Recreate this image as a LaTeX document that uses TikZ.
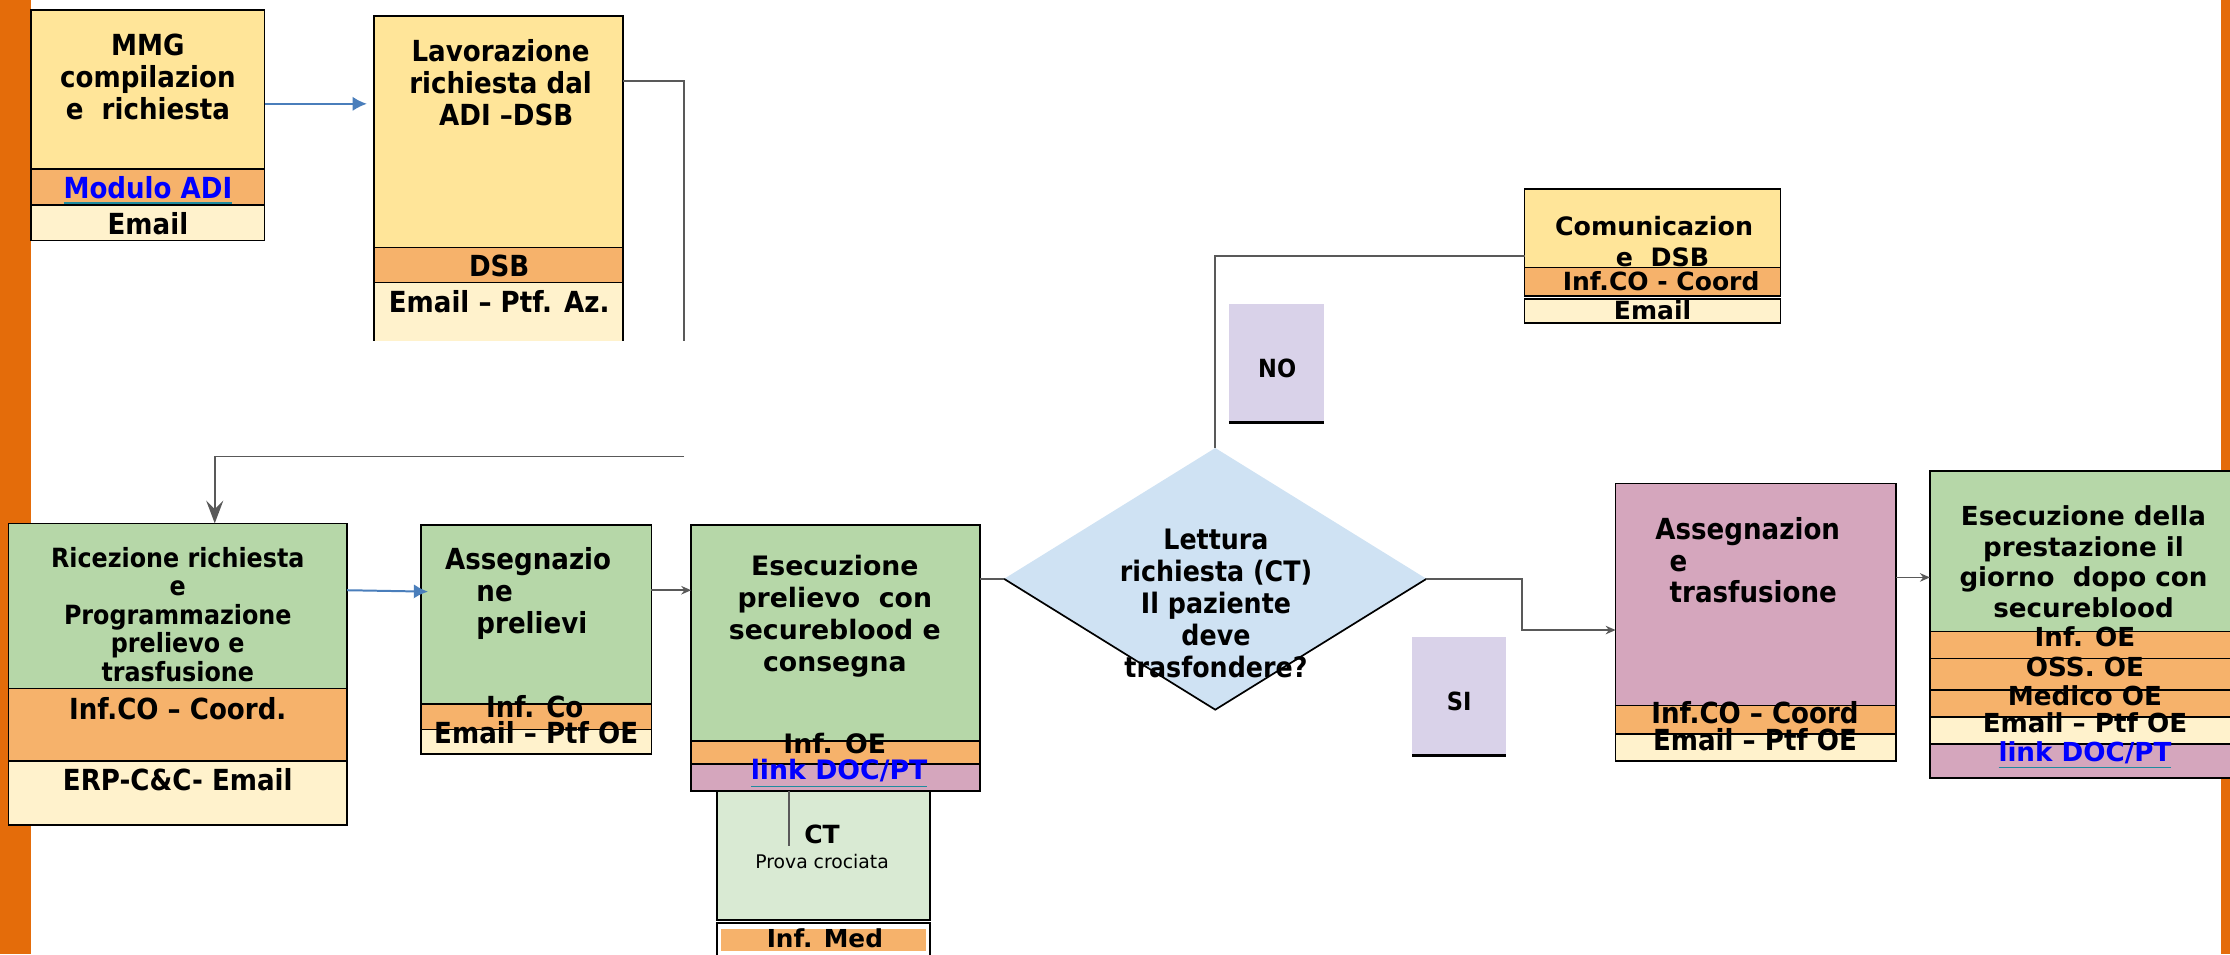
\documentclass[tikz,border=0pt]{standalone}
\usepackage{fontspec}
\setmainfont{DejaVu Sans}
\newfontfamily\cnd{DejaVu Sans}[FakeStretch=0.9]
\usetikzlibrary{fit,arrows.meta,shapes.geometric,calc}
\definecolor{obar}{HTML}{E46C0A}
\definecolor{yel}{HTML}{FFE599}
\definecolor{pea}{HTML}{F6B26B}
\definecolor{crm}{HTML}{FFF2CC}
\definecolor{grn}{HTML}{B6D7A8}
\definecolor{mau}{HTML}{D5A6BD}
\definecolor{lbl}{HTML}{CFE2F3}
\definecolor{lav}{HTML}{D9D2E9}
\definecolor{ctg}{HTML}{D9EAD3}
\definecolor{arrblue}{HTML}{4A7EBB}
\definecolor{gln}{HTML}{595959}
\definecolor{ulc}{HTML}{1F8C9F}
\newcommand\fC[2]{\cnd\bfseries\fontsize{#1}{#2}\selectfont}
\newcommand\fR[2]{\bfseries\fontsize{#1}{#2}\selectfont}
\newcommand\lnk[1]{{\color{ulc}\underline{\textcolor{blue}{#1}}}}
\begin{document}
\begin{tikzpicture}[x=0.5pt,y=-0.5pt,
  sec/.style={draw=black, line width=0.6pt, inner sep=0pt, outer sep=0pt},
  frame/.style={inner sep=0pt, outer sep=0pt},
  txt/.style={inner sep=0pt, outer sep=0pt, align=center},
  barrow/.style={draw=arrblue, line width=0.7pt, -{Latex[length=5pt,width=5pt]}},
  gline/.style={draw=gln, line width=0.6pt},
  garrow/.style={gline, -{Stealth[length=3.5pt,width=3pt]}},
  bigarrow/.style={gline, -{Stealth[length=8pt,width=6pt,inset=3pt]}},
  lowedge/.style={draw=black, line width=0.6pt},
]
\useasboundingbox (0,0) rectangle (1568,671);
% side bars
\fill[obar] (0,0) rectangle (22,671);
\fill[obar] (1562,0) rectangle (1568,671);

% ---- Box 1: MMG
\node[frame, fit={(22,7) (186,169)}] (b1) {};
\node[sec, fill=yel, fit={(22,7) (186,119)}] (b1a) {};
\node[sec, fill=pea, fit={(22,119) (186,144)}] (b1b) {};
\node[sec, fill=crm, fit={(22,144) (186,169)}] (b1c) {};
\node[txt, font=\fC{10.2}{11.25}] (t1a) at (104,54) {MMG\\compilazion\\e\ \ richiesta};
\node[txt, font=\fC{10.2}{11.25}] (t1b) at (104,134) {\lnk{Modulo ADI}};
\node[txt, font=\fC{10.2}{11.25}] (t1c) at (104,157) {Email};

% ---- Box 2: Lavorazione
\node[frame, fit={(263,11) (438,240)}] (b2) {};
\node[sec, fill=yel, fit={(263,11) (438,174)}] (b2a) {};
\node[sec, fill=pea, fit={(263,174) (438,199)}] (b2b) {};
\node[frame, fill=crm, fit={(263,199) (438,240)}] (b2c) {};
\draw[lowedge] (b2c.north west) -- (b2c.south west) (b2c.north east) -- (b2c.south east);
\node[txt, font=\fC{10.2}{11.25}] (t2a) at (352,58) {Lavorazione\\richiesta dal\\\hspace*{4pt}ADI –DSB};
\node[txt, font=\fC{10.2}{11.25}] (t2b) at (351,187) {DSB};
\node[txt, font=\fC{10.2}{11.25}] (t2c) at (351,212) {Email – Ptf. Az.};

% ---- Box 3: Ricezione
\node[frame, fit={(6,368) (244,580)}] (b3) {};
\node[sec, fill=grn, fit={(6,368) (244,484)}] (b3a) {};
\node[sec, fill=pea, fit={(6,484) (244,535)}] (b3b) {};
\node[sec, fill=crm, fit={(6,535) (244,580)}] (b3c) {};
\node[txt, font=\fC{9.3}{10}] (t3a) at (125,432) {Ricezione richiesta\\e\\Programmazione\\prelievo e\\trasfusione};
\node[txt, font=\fC{10.2}{11.25}] (t3b) at (125,498) {Inf.CO – Coord.};
\node[txt, font=\fC{10.2}{11.25}] (t3c) at (125,548) {ERP-C\&C- Email};

% ---- Box 4: Assegnazione prelievi
\node[frame, fit={(296,369) (458,530)}] (b4) {};
\node[sec, fill=grn, fit={(296,369) (458,495)}] (b4a) {};
\node[sec, fill=pea, fit={(296,495) (458,513)}] (b4b) {};
\node[sec, fill=crm, fit={(296,513) (458,530)}] (b4c) {};
\node[txt, align=left, anchor=west, font=\fC{10.2}{11.25}] (t4a) at (313,417) {Assegnazio\\\hspace*{11pt}ne\\\hspace*{11pt}prelievi};
\node[txt, font=\fC{10.2}{11.25}] (t4b) at (376,497) {Inf. Co};
\node[txt, font=\fC{10.2}{11.25}] (t4c) at (377,515) {Email – Ptf OE};

% ---- CT box
\node[sec, fill=ctg, fit={(504,550) (654,647)}] (ct) {};
\node[txt, font=\fR{8.8}{10}] (tct1) at (578,587) {CT};
\node[txt, font=\fontsize{6.6}{8}\selectfont] (tct2) at (578,606) {Prova crociata};
\node[sec, fill=white, fit={(504,649) (654,680)}] (im) {};
\node[frame, fill=pea, fit={(507,653) (651,669)}] (imb) {};
\node[txt, font=\fR{8.7}{10}] (tim) at (580,660) {Inf. Med};

% ---- Box 5: Esecuzione prelievo
\node[frame, fit={(486,369) (689,556)}] (b5) {};
\node[sec, fill=grn, fit={(486,369) (689,521)}] (b5a) {};
\node[sec, fill=pea, fit={(486,521) (689,537)}] (b5b) {};
\node[sec, fill=mau, fit={(486,537) (689,556)}] (b5c) {};
\node[txt, font=\fR{9.4}{11.25}] (t5a) at (587,433) {Esecuzione\\prelievo\ \ con\\secureblood e\\consegna};
\node[txt, font=\fR{9.4}{11.25}] (t5b) at (587,523) {Inf. OE};
\node[txt, font=\fR{9.4}{11.25}] (t5c) at (590,544) {\lnk{link DOC/PT}};

% ---- Diamond
\node[diamond, fill=lbl, inner sep=0pt, outer sep=0pt, minimum width=148.5pt, minimum height=92pt] (dm) at (854.5,407) {};
\draw[lowedge] (dm.west) -- (dm.south) -- (dm.east);
\node[txt, font=\fC{9.9}{11.25}] (tdm) at (855,424) {Lettura\\richiesta (CT)\\Il paziente\\deve\\trasfondere?};

% ---- NO / SI labels
\node[frame, fill=lav, fit={(864,214) (931,297)}] (no) {};
\draw[black, line width=1pt] (no.south west) -- (no.south east);
\node[txt, font=\fC{8.8}{10}] (tno) at (898,259) {NO};
\node[frame, fill=lav, fit={(993,448) (1059,531)}] (si) {};
\draw[black, line width=1pt] (si.south west) -- (si.south east);
\node[txt, font=\fC{8.8}{10}] (tsi) at (1026,493) {SI};

% ---- Box 6: Comunicazione
\node[frame, fit={(1072,133) (1252,227)}] (b6) {};
\node[sec, fill=yel, fit={(1072,133) (1252,188)}] (b6a) {};
\node[sec, fill=pea, fit={(1072,188) (1252,208)}] (b6b) {};
\node[sec, fill=crm, fit={(1072,210) (1252,227)}] (b6c) {};
\node[txt, font=\fR{8.9}{10.75}] (t6a) at (1163,170) {Comunicazion\\\hspace*{6pt}e\ \ DSB};
\node[txt, font=\fR{8.8}{10}] (t6b) at (1168,198) {Inf.CO - Coord};
\node[txt, font=\fR{8.8}{10}] (t6c) at (1162,218) {Email};

% ---- Box 7: Assegnazione trasfusione
\node[frame, fit={(1136,340) (1333,535)}] (b7) {};
\node[sec, fill=mau, fit={(1136,340) (1333,496)}] (b7a) {};
\node[sec, fill=pea, fit={(1136,496) (1333,516)}] (b7b) {};
\node[sec, fill=crm, fit={(1136,516) (1333,535)}] (b7c) {};
\node[txt, align=left, anchor=west, font=\fC{10.2}{11}] (t7a) at (1164,394) {Assegnazion\\\hspace*{5pt}e\\\hspace*{5pt}trasfusione};
\node[txt, font=\fC{10.2}{11.25}] (t7b) at (1234,501) {Inf.CO – Coord};
\node[txt, font=\fC{10.2}{11.25}] (t7c) at (1234,520) {Email – Ptf OE};

% ---- Box 8: Esecuzione della prestazione
\node[frame, fit={(1357,331) (1580,547)}] (b8) {};
\node[sec, fill=grn, fit={(1357,331) (1580,444)}] (b8a) {};
\node[sec, fill=pea, fit={(1357,444) (1580,463)}] (b8b) {};
\node[sec, fill=pea, fit={(1357,463) (1580,485)}] (b8c) {};
\node[sec, fill=pea, fit={(1357,485) (1580,504)}] (b8d) {};
\node[sec, fill=crm, fit={(1357,504) (1580,523)}] (b8e) {};
\node[sec, fill=mau, fit={(1357,523) (1580,547)}] (b8f) {};
\node[txt, font=\fR{9.2}{10.85}] (t8a) at (1465,395) {Esecuzione della\\prestazione il\\giorno\ \ dopo con\\secureblood};
\node[txt, font=\fR{9.2}{10.85}] (t8b) at (1466,448) {Inf. OE};
\node[txt, font=\fR{9.2}{10.85}] (t8c) at (1466,469) {OSS. OE};
\node[txt, font=\fR{9.2}{10.85}] (t8d) at (1466,489) {Medico OE};
\node[txt, font=\fR{9.2}{10.85}] (t8e) at (1466,508) {Email – Ptf OE};
\node[txt, font=\fR{9.2}{10.85}] (t8f) at (1466,531) {\lnk{link DOC/PT}};

% ---- Connectors
\coordinate (c1) at (481,240);
\coordinate (c2) at (481,321);
\draw[barrow] ([shift={(0,66)}]b1.north east) -- ([shift={(-5,62)}]b2.north west);
\draw[gline] ([shift={(0,46)}]b2.north east) -| (c1);
\draw[bigarrow] (c2) -| ([shift={(145,0)}]b3.north west);
\draw[barrow] ([shift={(0,47)}]b3.north east) -- ([shift={(5,47)}]b4.north west);
\draw[garrow] ([shift={(0,46)}]b4.north east) -- ([shift={(0,46)}]b5.north west);
\draw[gline] ([shift={(69,0)}]b5.south west) -- ([shift={(51,45)}]ct.north west);
\draw[gline] ([shift={(0,38)}]b5.north east) -- (dm.west);
\draw[gline] (dm.north) |- (b6.west);
\draw[garrow] (dm.east) -- ++(67,0) |- ([shift={(0,103)}]b7.north west);
\draw[garrow] ([shift={(0,66)}]b7.north east) -- ([shift={(0,75)}]b8.north west);
\end{tikzpicture}
\end{document}
